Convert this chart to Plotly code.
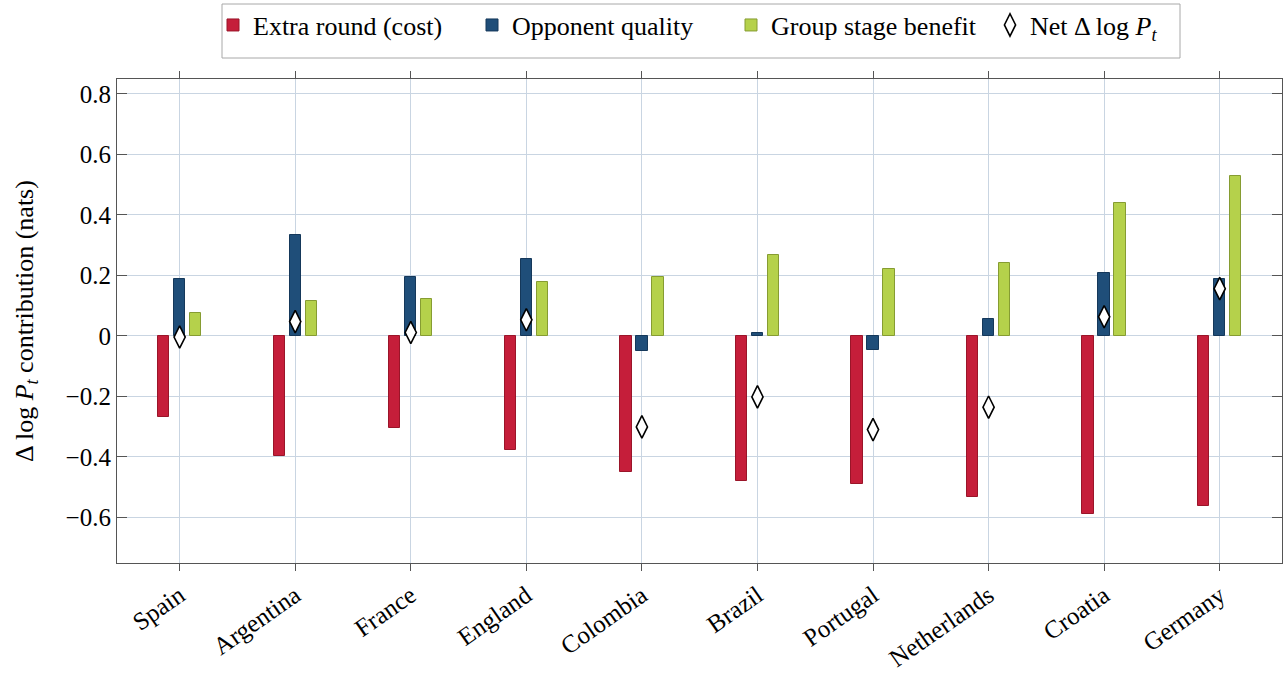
import plotly.graph_objects as go

countries = ["Spain", "Argentina", "France", "England", "Colombia",
             "Brazil", "Portugal", "Netherlands", "Croatia", "Germany"]
extra_round = [-0.269, -0.398, -0.305, -0.377, -0.450, -0.481, -0.489, -0.534, -0.589, -0.562]
opponent_quality = [0.189, 0.332, 0.194, 0.253, -0.050, 0.011, -0.046, 0.054, 0.207, 0.189]
group_stage = [0.076, 0.115, 0.121, 0.177, 0.193, 0.266, 0.220, 0.240, 0.440, 0.527]
net = [-0.004, 0.047, 0.011, 0.053, -0.301, -0.202, -0.310, -0.236, 0.063, 0.156]

y_tick_vals = [-0.6, -0.4, -0.2, 0, 0.2, 0.4, 0.6, 0.8]
y_tick_text = ["\u22120.6", "\u22120.4", "\u22120.2", "0", "0.2", "0.4", "0.6", "0.8"]

FONT = "Liberation Serif"
idx = list(range(len(countries)))
off = 0.1384
bw = 0.098

fig = go.Figure()
fig.add_trace(go.Bar(
    x=[i - off for i in idx], y=extra_round, width=bw, name="Extra round (cost)",
    marker=dict(color="#C51E3A", line=dict(color="#9A1529", width=1)),
))
fig.add_trace(go.Bar(
    x=idx, y=opponent_quality, width=bw, name="Opponent quality",
    marker=dict(color="#1F4E79", line=dict(color="#15385A", width=1)),
))
fig.add_trace(go.Bar(
    x=[i + off for i in idx], y=group_stage, width=bw, name="Group stage benefit",
    marker=dict(color="#B5D14B", line=dict(color="#869C32", width=1)),
))
fig.add_trace(go.Scatter(
    x=idx, y=net, mode="markers", name="Net \u0394 log <i>P</i><sub><i>t</i></sub>",
    marker=dict(symbol="diamond-tall", size=16, color="white",
                line=dict(color="black", width=1.6)),
))

fig.update_layout(
    width=1286, height=673,
    barmode="overlay",
    plot_bgcolor="white", paper_bgcolor="white",
    margin=dict(l=117, r=4, t=79, b=110, autoexpand=False),
    font=dict(family=FONT, size=24, color="black"),
    showlegend=True,
    legend=dict(
        orientation="h", x=(213 - 117) / 1165, y=1.16, xanchor="left", yanchor="top",
        borderwidth=0, bgcolor="rgba(0,0,0,0)",
        font=dict(family=FONT, size=26, color="black"),
        itemwidth=30, tracegroupgap=0,
        entrywidth=214, entrywidthmode="pixels",
    ),
    bargap=0,
    shapes=[dict(type="rect", xref="paper", yref="paper", layer="below",
                 x0=(222 - 117) / 1165, x1=(1180 - 117) / 1165,
                 y0=1 + (79 - 58) / 484, y1=1 + (79 - 4) / 484,
                 line=dict(color="#A8A8A8", width=1), fillcolor="white")],
)
fig.update_xaxes(
    range=[-0.542, 9.539], tickmode="array", tickvals=idx, ticktext=countries,
    tickangle=-35, ticks="outside", ticklen=7, tickcolor="#555",
    showline=True, linecolor="#555", linewidth=1.2, mirror="ticks",
    showgrid=True, gridcolor="#C9D5E2", gridwidth=1, zeroline=False,
    tickfont=dict(family=FONT, size=25),
)
fig.update_yaxes(
    range=[-0.751, 0.849], tickmode="array", tickvals=y_tick_vals, ticktext=y_tick_text,
    ticks="inside", ticklen=10, tickcolor="#555",
    showline=True, linecolor="#555", linewidth=1.2, mirror="ticks",
    showgrid=True, gridcolor="#C9D5E2", gridwidth=1, zeroline=False,
    tickfont=dict(family=FONT, size=25),
    title=dict(text="\u0394 log <i>P</i><sub><i>t</i></sub> contribution (nats)",
               font=dict(family=FONT, size=26), standoff=24),
)

fig.write_html("out.html")
